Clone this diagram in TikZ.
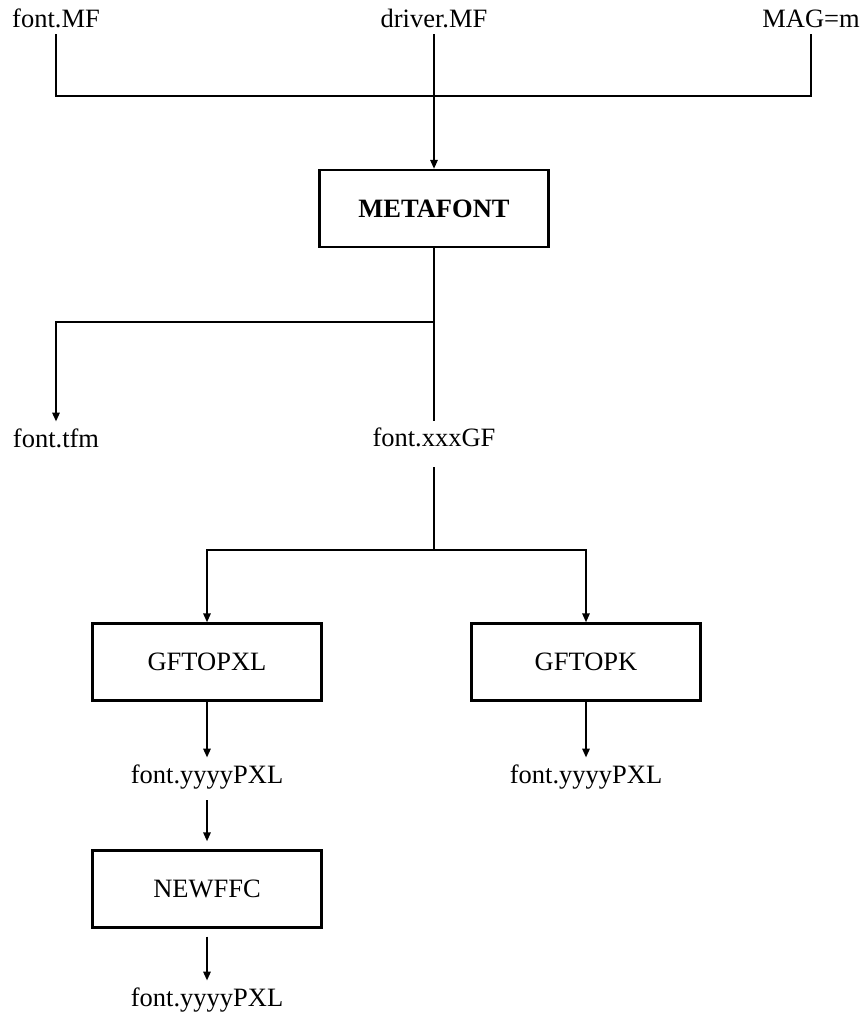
\documentclass[tikz,border=0pt]{standalone}
\usepackage{fontspec}
\setmainfont{Liberation Serif}
\usetikzlibrary{arrows.meta}
\begin{document}
\begin{tikzpicture}[x=0.5pt,y=-0.5pt,
		every node/.style={inner sep=0pt,font=\fontsize{13.25}{16}\selectfont},
		file/.style={anchor=base,text height=12.5pt,text depth=3pt},
		prog/.style={draw=black,line width=1.1pt,minimum width=114.5pt,minimum height=38.5pt},
		flow/.style={black,line width=1.1pt},
		arr/.style={flow,-{Triangle[length=4.5pt,width=3.6pt]}}]
		\useasboundingbox (0,0) rectangle (863,1015);
		\node [file] (fontmf) at (56,28) {font.MF};
		\node [file] (drivermf) at (434,28) {driver.MF};
		\node [file] (mag) at (811,28) {MAG=m};
		\coordinate (join) at (434,96);
		\node [prog] (metafont) at (434,208.5) {\bfseries METAFONT};
		\coordinate (split1) at (434,322);
		\node [file] (tfm) at (56,447) {font.tfm};
		\node [file] (gf) at (434,446) {font.xxxGF};
		\coordinate (split2) at (434,550);
		\node [prog] (gftopxl) at (207,662) {GFTOPXL};
		\node [prog] (gftopk) at (586,662) {GFTOPK};
		\node [file] (pxla) at (207,783) {font.yyyyPXL};
		\node [file] (pk) at (586,783) {font.yyyyPXL};
		\node [prog] (newffc) at (207,889) {NEWFFC};
		\node [file] (pxlb) at (207,1006) {font.yyyyPXL};
		\draw [flow] (fontmf.south) |- (join) -| (mag.south);
		\draw [arr] (drivermf.south) -- (metafont.north);
		\draw [flow] (metafont.south) -- (gf.north);
		\draw [arr] (split1) -| (tfm.north);
		\draw [flow,shorten <=7.5pt] (gf.south) -- (split2);
		\draw [arr] (split2) -| (gftopxl.north);
		\draw [arr] (split2) -| (gftopk.north);
		\draw [arr] (gftopxl.south) -- (pxla.north);
		\draw [arr] (gftopk.south) -- (pk.north);
		\draw [arr,shorten <=5.5pt,shorten >=4pt] (pxla.south) -- (newffc.north);
		\draw [arr,shorten <=4pt] (newffc.south) -- (pxlb.north);
	\end{tikzpicture}
\end{document}
